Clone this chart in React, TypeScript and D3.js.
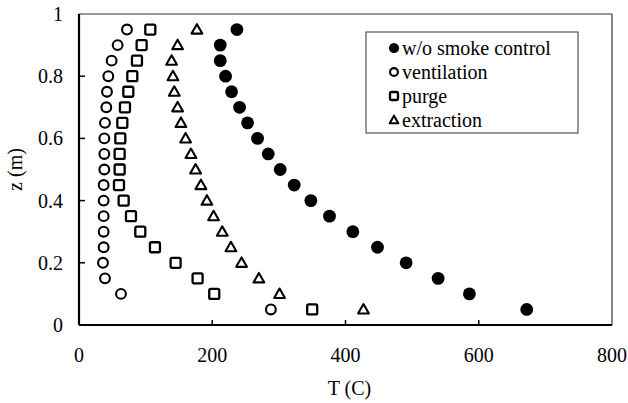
import React from 'react';
import * as d3 from 'd3';

// height above floor (m)
const heights = [0.95, 0.9, 0.85, 0.8, 0.75, 0.7, 0.65, 0.6, 0.55, 0.5, 0.45, 0.4, 0.35, 0.3, 0.25, 0.2, 0.15, 0.1, 0.05];

// temperature (C) for each height
const noControl = [237, 212, 212, 220, 229, 241, 253, 268, 284, 302, 323, 348, 376, 411, 448, 491, 539, 586, 672];
const ventilation = [72, 58, 49, 44, 42, 41, 39, 38, 38, 38, 37, 37, 37, 37, 37, 36, 39, 63, 288];
const purge = [107, 94, 87, 80, 74, 69, 65, 62, 61, 61, 60, 67, 78, 92, 114, 145, 178, 203, 350];
const extraction = [177, 148, 139, 141, 143, 148, 153, 160, 168, 175, 183, 192, 202, 215, 228, 244, 270, 301, 427];

const xTicks = [0, 200, 400, 600, 800];
const yTicks = [0, 0.2, 0.4, 0.6, 0.8, 1];

const seriesList = [
    { name: 'w/o smoke control', values: noControl, shape: 'dot' },
    { name: 'ventilation', values: ventilation, shape: 'circle' },
    { name: 'purge', values: purge, shape: 'square' },
    { name: 'extraction', values: extraction, shape: 'triangle' },
];

const W = 628;
const H = 403;
const margin = { top: 14, right: 16, bottom: 78, left: 79 };
const font = '"Liberation Serif", "Times New Roman", serif';

function Marker({ shape, x, y, s = 1 }: { shape: string; x: number; y: number; s?: number }) {
    if (shape === 'dot') {
        return <circle cx={x} cy={y} r={6.4 * s} fill="#000" />;
    }
    if (shape === 'circle') {
        return <circle cx={x} cy={y} r={4.9 * s} fill="none" stroke="#000" strokeWidth={2.1} />;
    }
    if (shape === 'square') {
        const h = 5 * s;
        return <rect x={x - h} y={y - h} width={2 * h} height={2 * h} rx={1.5} fill="none" stroke="#000" strokeWidth={2.3} />;
    }
    // triangle
    const a = 5.4 * s;
    const pts = [[x, y - a], [x + a, y + a * 0.75], [x - a, y + a * 0.75]].map(p => p.join(',')).join(' ');
    return <polygon points={pts} fill="none" stroke="#000" strokeWidth={2.1} strokeLinejoin="round" />;
}

export default function App() {
    const x = d3.scaleLinear().domain([0, 800]).range([margin.left, W - margin.right]);
    const y = d3.scaleLinear().domain([0, 1]).range([H - margin.bottom, margin.top]);

    const legX = 366;
    const legY = 32;

    return (
        <svg width={W} height={H} style={{ position: 'absolute', left: 0, top: 0, background: '#fff' }}
            fontFamily={font}>
            {/* frame */}
            <line x1={x(0)} x2={x(800)} y1={y(1)} y2={y(1)} stroke="#333" strokeWidth={1.2} />
            <line x1={x(800)} x2={x(800)} y1={y(1)} y2={y(0)} stroke="#333" strokeWidth={1.2} />
            <line x1={x(0)} x2={x(0)} y1={y(1)} y2={y(0)} stroke="#000" strokeWidth={2.2} />
            <line x1={x(0)} x2={x(800)} y1={y(0)} y2={y(0)} stroke="#000" strokeWidth={2.2} />

            {/* y ticks */}
            {yTicks.map(t => (
                <g key={'y' + t}>
                    {t > 0 && t < 1 && <line x1={x(0)} x2={x(0) + 6} y1={y(t)} y2={y(t)} stroke="#000" strokeWidth={1.5} />}
                    <text x={63} y={y(t)} dy="0.35em" textAnchor="end" fontSize={20}>{t}</text>
                </g>
            ))}

            {/* x ticks */}
            {xTicks.map(t => (
                <g key={'x' + t}>
                    {t > 0 && t < 800 && <line x1={x(t)} x2={x(t)} y1={y(0)} y2={y(0) - 5} stroke="#000" strokeWidth={1.5} />}
                    <text x={x(t)} y={362} textAnchor="middle" fontSize={20}>{t}</text>
                </g>
            ))}

            <text x={(x(0) + x(800)) / 2 + 4} y={395} textAnchor="middle" fontSize={20}>T (C)</text>
            <text transform={`translate(22, ${y(0.5)}) rotate(-90)`} textAnchor="middle" fontSize={20}>z (m)</text>

            {/* points */}
            {seriesList.map(s => (
                <g key={s.name}>
                    {s.values.map((v, i) => (
                        <Marker key={i} shape={s.shape} x={x(v)} y={y(heights[i])} />
                    ))}
                </g>
            ))}

            {/* legend */}
            <rect x={legX} y={legY} width={212} height={101} fill="#fff" stroke="#333" strokeWidth={1} />
            {seriesList.map((s, i) => (
                <g key={'leg' + s.name}>
                    <Marker shape={s.shape} x={394} y={legY + 16 + i * 24} s={0.8} />
                    <text x={402} y={legY + 16 + i * 24} dy="0.33em" fontSize={20}>{s.name}</text>
                </g>
            ))}
        </svg>
    );
}
